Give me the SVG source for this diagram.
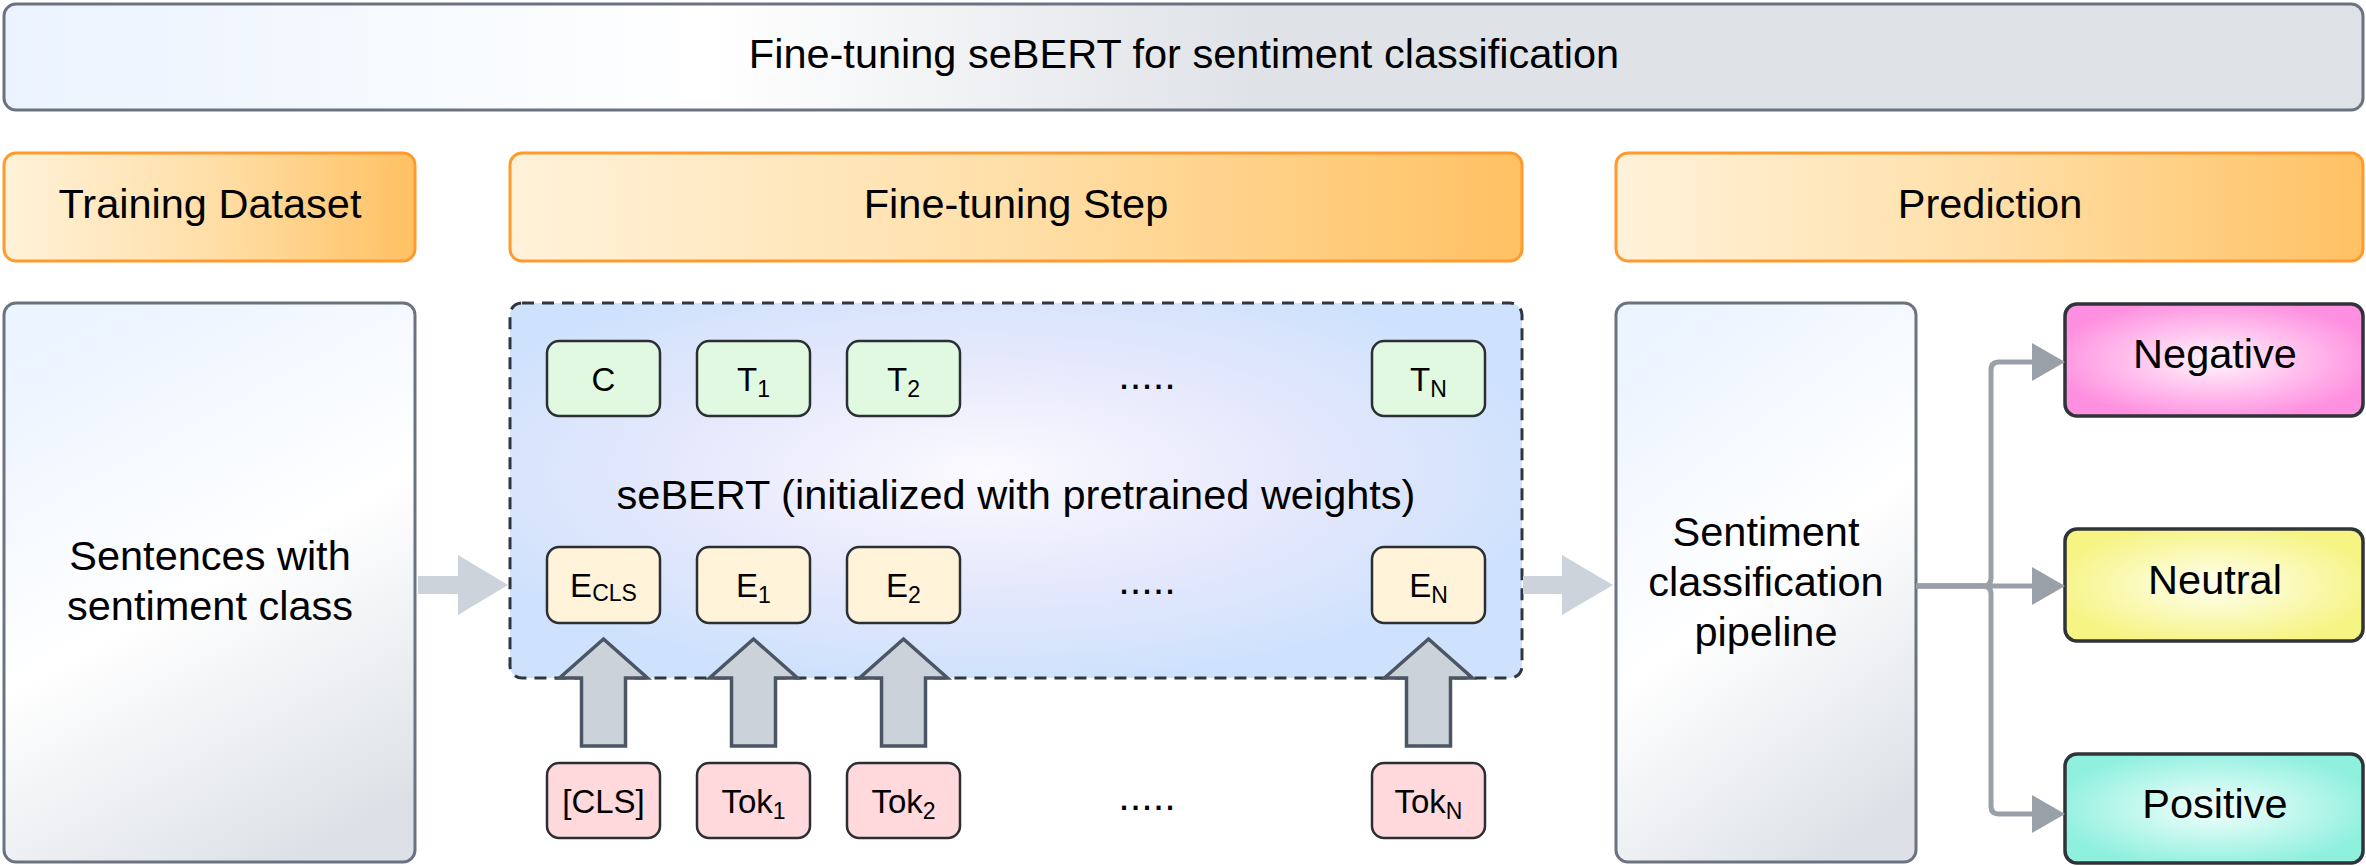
<svg xmlns="http://www.w3.org/2000/svg" width="2366" height="866" viewBox="0 0 2366 866">
<style>
  text { font-family: "Liberation Sans", Arial, sans-serif; fill: #000; text-anchor: middle; }
  .big { font-size: 41.5px; }
  .sm { font-size: 33px; }
  .sub { font-size: 23px; }
  .frame { stroke: #6b7280; stroke-width: 3; }
  .hdr { fill: url(#gHdr); stroke: #ff9a2e; stroke-width: 3; }
  .tb { fill: #e1f8e1; stroke: #2b2f33; stroke-width: 2.5; }
  .eb { fill: #fff3d9; stroke: #2b2f33; stroke-width: 2.5; }
  .kb { fill: #ffd9db; stroke: #2b2f33; stroke-width: 2.5; }
  .out { stroke: #2f343a; stroke-width: 3.5; }
  .conn { fill: none; stroke: #9aa0a8; stroke-width: 5; }
  .blk { fill: #cdd3da; }
  .up { fill: #cbd2da; stroke: #4b5563; stroke-width: 3.5; stroke-linejoin: miter; }
</style>
<defs>
  <linearGradient id="gTitle" x1="0" y1="0" x2="1" y2="0">
    <stop offset="0" stop-color="#ebf3fe"/>
    <stop offset="0.3" stop-color="#ffffff"/>
    <stop offset="0.53" stop-color="#dfe2e7"/>
    <stop offset="1" stop-color="#dfe2e7"/>
  </linearGradient>
  <linearGradient id="gHdr" x1="0" y1="0" x2="1" y2="0">
    <stop offset="0" stop-color="#fff2d9"/>
    <stop offset="0.5" stop-color="#ffdfa8"/>
    <stop offset="1" stop-color="#ffc163"/>
  </linearGradient>
  <linearGradient id="gSide" x1="0.3" y1="0" x2="0.7" y2="1">
    <stop offset="0" stop-color="#ecf4ff"/>
    <stop offset="0.5" stop-color="#ffffff"/>
    <stop offset="1" stop-color="#dde1e7"/>
  </linearGradient>
  <radialGradient id="gBert" cx="0.47" cy="0.45" r="0.56">
    <stop offset="0" stop-color="#fbfaff"/>
    <stop offset="0.5" stop-color="#e8e9fc"/>
    <stop offset="1" stop-color="#cfe2fd"/>
  </radialGradient>
  <radialGradient id="gNeg" cx="0.5" cy="0.5" r="0.55">
    <stop offset="0" stop-color="#fff6fd"/>
    <stop offset="1" stop-color="#ff8fe0"/>
  </radialGradient>
  <radialGradient id="gNeu" cx="0.5" cy="0.5" r="0.55">
    <stop offset="0" stop-color="#fffff2"/>
    <stop offset="1" stop-color="#f6f483"/>
  </radialGradient>
  <radialGradient id="gPos" cx="0.5" cy="0.5" r="0.55">
    <stop offset="0" stop-color="#f4fffd"/>
    <stop offset="1" stop-color="#8ff0de"/>
  </radialGradient>
  <marker id="ah" markerUnits="userSpaceOnUse" markerWidth="34" markerHeight="38" refX="8" refY="19" orient="auto">
    <path d="M0,0 L33,19 L0,38 Z" fill="#9aa0a8"/>
  </marker>
  <path id="upArrow" d="M0,0 L44,39 L22,39 L22,107 L-22,107 L-22,39 L-44,39 Z"/>
</defs>

<g id="title">
  <rect class="frame" x="4" y="4" width="2359" height="106" rx="12" fill="url(#gTitle)"/>
  <text class="big" x="1184" y="68">Fine-tuning seBERT for sentiment classification</text>
</g>

<g id="header-training">
  <rect class="hdr" x="4" y="153" width="411" height="108" rx="12"/>
  <text class="big" x="210" y="218">Training Dataset</text>
</g>
<g id="header-finetuning">
  <rect class="hdr" x="510" y="153" width="1012" height="108" rx="12"/>
  <text class="big" x="1016" y="218">Fine-tuning Step</text>
</g>
<g id="header-prediction">
  <rect class="hdr" x="1616" y="153" width="747" height="108" rx="12"/>
  <text class="big" x="1990" y="218">Prediction</text>
</g>

<g id="dataset">
  <rect class="frame" x="4" y="303" width="411" height="559" rx="12" fill="url(#gSide)"/>
  <text class="big" x="210" y="570">Sentences with</text>
  <text class="big" x="210" y="620">sentiment class</text>
</g>

<g id="sebert">
  <rect x="510" y="303" width="1012" height="375" rx="12" fill="url(#gBert)" stroke="#2f3640" stroke-width="3" stroke-dasharray="12 8"/>
  <text class="big" x="1016" y="509">seBERT (initialized with pretrained weights)</text>
</g>

<g id="out-C"><rect class="tb" x="547" y="341" width="113" height="75" rx="12"/><text class="sm" x="603.5" y="391">C</text></g>
<g id="out-T1"><rect class="tb" x="697" y="341" width="113" height="75" rx="12"/><text class="sm" x="753.5" y="391">T<tspan class="sub" dy="6">1</tspan></text></g>
<g id="out-T2"><rect class="tb" x="847" y="341" width="113" height="75" rx="12"/><text class="sm" x="903.5" y="391">T<tspan class="sub" dy="6">2</tspan></text></g>
<g id="out-dots"><text class="big" x="1147" y="389">.....</text></g>
<g id="out-TN"><rect class="tb" x="1372" y="341" width="113" height="75" rx="12"/><text class="sm" x="1428.5" y="391">T<tspan class="sub" dy="6">N</tspan></text></g>

<g id="emb-CLS"><rect class="eb" x="547" y="547" width="113" height="76" rx="12"/><text class="sm" x="603.5" y="597">E<tspan class="sub" dy="4">CLS</tspan></text></g>
<g id="emb-1"><rect class="eb" x="697" y="547" width="113" height="76" rx="12"/><text class="sm" x="753.5" y="597">E<tspan class="sub" dy="6">1</tspan></text></g>
<g id="emb-2"><rect class="eb" x="847" y="547" width="113" height="76" rx="12"/><text class="sm" x="903.5" y="597">E<tspan class="sub" dy="6">2</tspan></text></g>
<g id="emb-dots"><text class="big" x="1147" y="594">.....</text></g>
<g id="emb-N"><rect class="eb" x="1372" y="547" width="113" height="76" rx="12"/><text class="sm" x="1428.5" y="597">E<tspan class="sub" dy="6">N</tspan></text></g>

<g id="tok-CLS"><rect class="kb" x="547" y="763" width="113" height="75" rx="12"/><text class="sm" x="603.5" y="813">[CLS]</text></g>
<g id="tok-1"><rect class="kb" x="697" y="763" width="113" height="75" rx="12"/><text class="sm" x="753.5" y="813">Tok<tspan class="sub" dy="6">1</tspan></text></g>
<g id="tok-2"><rect class="kb" x="847" y="763" width="113" height="75" rx="12"/><text class="sm" x="903.5" y="813">Tok<tspan class="sub" dy="6">2</tspan></text></g>
<g id="tok-dots"><text class="big" x="1147" y="810">.....</text></g>
<g id="tok-N"><rect class="kb" x="1372" y="763" width="113" height="75" rx="12"/><text class="sm" x="1428.5" y="813">Tok<tspan class="sub" dy="6">N</tspan></text></g>

<g id="pipeline">
  <rect class="frame" x="1616" y="303" width="300" height="559" rx="12" fill="url(#gSide)"/>
  <text class="big" x="1766" y="546">Sentiment</text>
  <text class="big" x="1766" y="596">classification</text>
  <text class="big" x="1766" y="646">pipeline</text>
</g>

<g id="negative">
  <rect class="out" x="2065" y="304" width="298" height="112" rx="12" fill="url(#gNeg)"/>
  <text class="big" x="2215" y="368">Negative</text>
</g>
<g id="neutral">
  <rect class="out" x="2065" y="529" width="298" height="112" rx="12" fill="url(#gNeu)"/>
  <text class="big" x="2215" y="594">Neutral</text>
</g>
<g id="positive">
  <rect class="out" x="2065" y="754" width="298" height="109" rx="12" fill="url(#gPos)"/>
  <text class="big" x="2215" y="818">Positive</text>
</g>

<g id="connectors">
  <path class="blk" d="M418,576 H458 V555 L508,585 L458,615 V594 H418 Z"/>
  <path class="blk" d="M1523,576 H1562 V555 L1613,585 L1562,615 V594 H1523 Z"/>
  <use href="#upArrow" class="up" x="603.5" y="639"/>
  <use href="#upArrow" class="up" x="753.5" y="639"/>
  <use href="#upArrow" class="up" x="903.5" y="639"/>
  <use href="#upArrow" class="up" x="1428.5" y="639"/>
  <path class="conn" marker-end="url(#ah)" d="M1916,586 H1983 Q1991,586 1991,578 V370 Q1991,362 1999,362 H2040"/>
  <path class="conn" marker-end="url(#ah)" d="M1916,586 H2040"/>
  <path class="conn" marker-end="url(#ah)" d="M1916,586 H1983 Q1991,586 1991,594 V806 Q1991,814 1999,814 H2040"/>
</g>
</svg>
